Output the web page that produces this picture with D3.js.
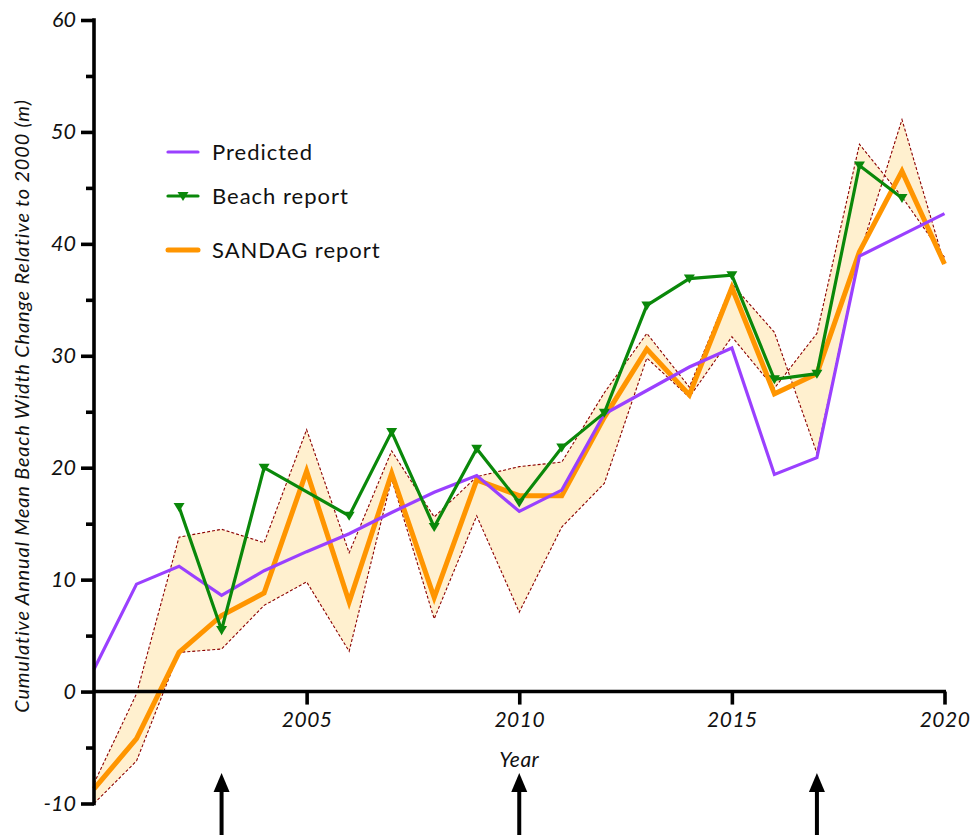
<!DOCTYPE html>
<html>
<head>
<meta charset="utf-8">
<script src="https://cdn.jsdelivr.net/npm/d3@7"></script>
<style>
  html, body { margin: 0; padding: 0; background: #ffffff; }
  svg { display: block; }
  text { font-family: Lato, "Noto Sans", sans-serif; fill: #111; }
</style>
</head>
<body>
<svg id="chart" width="971" height="835"></svg>
<script>
// ---- data ----
const years = [2000,2001,2002,2003,2004,2005,2006,2007,2008,2009,2010,2011,2012,2013,2014,2015,2016,2017,2018,2019,2020];
const predicted = [2.0,9.6,11.2,8.6,10.8,12.5,14.1,16.0,17.8,19.3,16.1,18.0,24.8,26.9,29.0,30.7,19.4,20.9,38.9,40.8,42.7];
const sandag = [-8.7,-4.2,3.5,6.8,8.8,19.7,8.0,19.5,8.4,18.9,17.5,17.5,24.5,30.6,26.5,36.1,26.6,28.4,39.3,46.5,38.2];
const boundA = [-8.2,-0.2,13.8,14.5,13.3,23.4,12.4,21.5,15.6,19.2,20.1,20.5,26.7,32.0,27.2,36.4,32.1,21.3,39.0,51.1,38.2];
const boundB = [-10.0,-6.2,3.5,3.8,7.7,9.8,3.6,19.0,6.5,15.7,7.1,14.7,18.6,29.8,26.3,31.7,27.1,32.0,48.9,44.2,38.8];
const beachYears = [2002,2003,2004,2006,2007,2008,2009,2010,2011,2012,2013,2014,2015,2016,2017,2018,2019];
const beach = [16.5,5.5,20.0,15.7,23.2,14.7,21.7,16.9,21.8,24.9,34.5,36.9,37.2,27.9,28.4,47.0,44.1];
const xTickValues = [2005,2010,2015,2020];
const yMajorTicks = [-10,0,10,20,30,40,50,60];
const yMinorTicks = [-5,5,15,25,35,45,55];
const arrowYears = [2003,2010,2017];
const legendItems = ["Predicted","Beach report","SANDAG report"];
const yTitle = "Cumulative Annual Mean Beach Width Change Relative to 2000 (m)";
const xTitle = "Year";

// ---- colours ----
const cPred = "#9a40ff", cBeach = "#0a880a", cSandag = "#ff9500", cFill = "#fff0cf", cBound = "#8b0000";

const svg = d3.select("#chart");
const x = d3.scaleLinear().domain([2000, 2020]).range([94, 944.5]);
const y = d3.scaleLinear().domain([-10, 60]).range([803.5, 20]);

// band
const band = years.map((yr, i) => ({yr, a: boundA[i], b: boundB[i]}));
svg.append("path").datum(band)
  .attr("d", d3.area().x(d => x(d.yr)).y0(d => y(d.a)).y1(d => y(d.b)))
  .attr("fill", cFill).attr("stroke", "none");
[boundA, boundB].forEach(arr => {
  svg.append("path").datum(years.map((yr, i) => [yr, arr[i]]))
    .attr("d", d3.line().x(d => x(d[0])).y(d => y(d[1])))
    .attr("fill", "none").attr("stroke", cBound).attr("stroke-width", 1.1)
    .attr("stroke-dasharray", "3,2");
});

const line = d3.line().x(d => x(d[0])).y(d => y(d[1]));
// SANDAG
svg.append("path").datum(years.map((yr, i) => [yr, sandag[i]]))
  .attr("d", line).attr("fill", "none").attr("stroke", cSandag)
  .attr("stroke-width", 5).attr("stroke-linejoin", "miter");
// Predicted
svg.append("path").datum(years.map((yr, i) => [yr, predicted[i]]))
  .attr("d", line).attr("fill", "none").attr("stroke", cPred)
  .attr("stroke-width", 3.2).attr("stroke-linejoin", "miter");
// Beach
const beachData = beachYears.map((yr, i) => [yr, beach[i]]);
svg.append("path").datum(beachData)
  .attr("d", line).attr("fill", "none").attr("stroke", cBeach)
  .attr("stroke-width", 3.2).attr("stroke-linejoin", "miter");
const tri = "M-5.5,-4 L5.5,-4 L0,5 Z";
svg.selectAll(".bm").data(beachData).enter().append("path")
  .attr("class", "bm")
  .attr("transform", d => `translate(${x(d[0])},${y(d[1])})`)
  .attr("d", tri).attr("fill", cBeach);

// axes
const axisW = 3.6;
const xAxis = d3.axisBottom(x).tickValues(xTickValues).tickSize(13).tickPadding(8).tickFormat(d => String(d));
const gx = svg.append("g").attr("transform", `translate(0,${y(0)})`).call(xAxis);
gx.select(".domain").attr("stroke", "#000").attr("stroke-width", axisW).attr("d", `M${x(2000)},0H${x(2020)+1.5}`);
gx.selectAll(".tick line").attr("stroke", "#000").attr("stroke-width", axisW);
gx.selectAll(".tick text").attr("font-size", 21).attr("font-style", "italic")
  .attr("font-family", "Lato, sans-serif").attr("fill", "#111").attr("letter-spacing", 0.5);

const yAxis = d3.axisLeft(y).tickValues(yMajorTicks).tickSize(13).tickPadding(5).tickFormat(d => String(d));
const gy = svg.append("g").attr("transform", `translate(${x(2000)},0)`).call(yAxis);
gy.select(".domain").attr("stroke", "#000").attr("stroke-width", axisW).attr("d", `M0,${y(-10)+1.8}V${y(60)-1.8}`);
gy.selectAll(".tick line").attr("stroke", "#000").attr("stroke-width", axisW);
gy.selectAll(".tick text").attr("font-size", 21.5).attr("font-style", "italic")
  .attr("font-family", "Lato, sans-serif").attr("fill", "#111");
const gyMinor = svg.append("g").attr("transform", `translate(${x(2000)},0)`)
  .call(d3.axisLeft(y).tickValues(yMinorTicks).tickSize(8).tickFormat(""));
gyMinor.select(".domain").remove();
gyMinor.selectAll(".tick line").attr("stroke", "#000").attr("stroke-width", axisW);

// titles
svg.append("text").attr("transform", `translate(29,406) rotate(-90)`)
  .attr("text-anchor", "middle").attr("font-size", 20).attr("font-style", "italic")
  .attr("letter-spacing", 0.8)
  .text(yTitle);
svg.append("text").attr("x", x(2010)).attr("y", 767).attr("text-anchor", "middle")
  .attr("font-size", 21).attr("font-style", "italic").attr("letter-spacing", 0.5).text(xTitle);

// arrows
arrowYears.forEach(yr => {
  const ax = x(yr);
  svg.append("path").attr("d", `M${ax},790 V835`).attr("stroke", "#000").attr("stroke-width", 4);
  svg.append("path").attr("d", `M${ax},773 L${ax-8},792 L${ax+8},792 Z`).attr("fill", "#000");
});

// legend
const legY = [152, 196, 250];
const legColors = [cPred, cBeach, cSandag];
const legW = [3.2, 3.2, 5];
legendItems.forEach((name, i) => {
  svg.append("line").attr("x1", 168).attr("x2", 198).attr("y1", legY[i]).attr("y2", legY[i])
    .attr("stroke", legColors[i]).attr("stroke-width", legW[i]).attr("stroke-linecap", "round");
  if (i === 1) {
    svg.append("path").attr("transform", `translate(183,${legY[i]})`).attr("d", tri).attr("fill", cBeach);
  }
  svg.append("text").attr("x", 212).attr("y", legY[i] + 8).attr("font-size", 22)
    .attr("letter-spacing", 1.0).text(name);
});
</script>
</body>
</html>
